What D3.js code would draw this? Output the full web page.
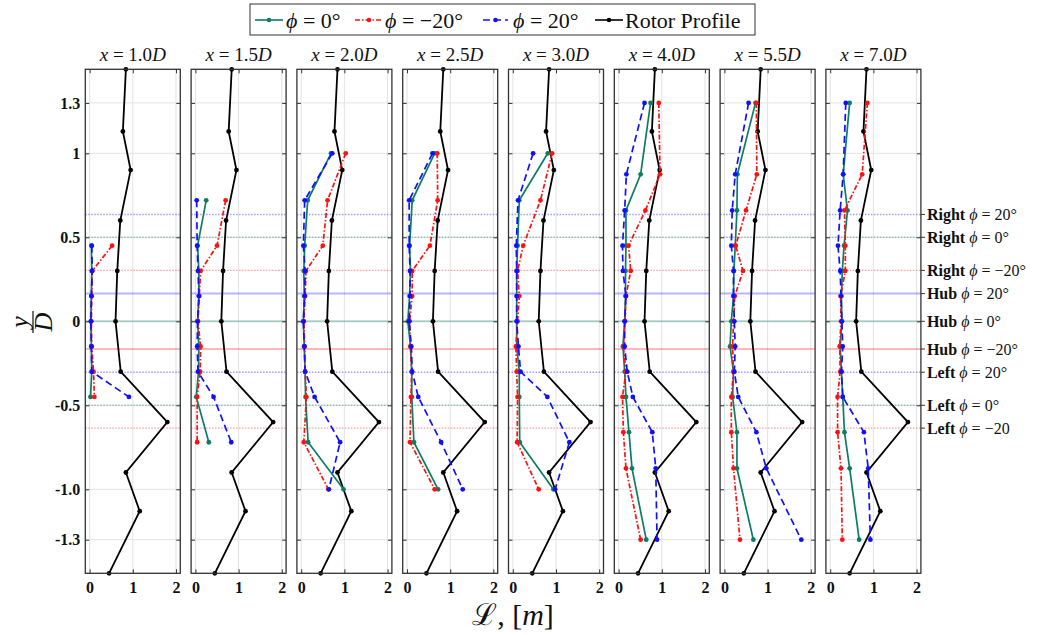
<!DOCTYPE html>
<html>
<head>
<meta charset="utf-8">
<script src="https://cdn.jsdelivr.net/npm/d3@7"></script>
<style>
  body { margin: 0; background: #fff; }
  text { font-family: "Liberation Serif", "DejaVu Serif", serif; fill: #111; }
</style>
</head>
<body>
<div id="chart"></div>
<script>
// downstream stations
var stations = ["1.0", "1.5", "2.0", "2.5", "3.0", "4.0", "5.5", "7.0"]

// y/D measurement levels used at each station
var levA = [0.45, 0.3, 0.15, 0, -0.15, -0.3, -0.45]
var levB = [0.72, 0.45, 0.3, 0.15, 0, -0.15, -0.3, -0.45, -0.72]
var levC = [1.0, 0.72, 0.45, 0.3, 0.15, 0, -0.15, -0.3, -0.45, -0.72, -1.0]
var levE = [1.3, 0.875, 0.66, 0.45, 0.3, 0.15, 0, -0.15, -0.3, -0.45, -0.66, -0.875, -1.3]
var stationLevels = [levA, levB, levC, levC, levC, levE, levE, levE]

// L [m] for phi = 0
var phi0 = [
  [0.04, 0.05, 0.04, 0.03, 0.04, 0.05, 0.02],
  [0.25, 0.05, 0.08, 0.08, 0.05, 0.08, 0.07, 0.02, 0.31],
  [0.69, 0.15, 0.08, 0.06, 0.07, 0.05, 0.07, 0.09, 0.10, 0.16, 0.98],
  [0.64, 0.12, 0.06, 0.08, 0.06, 0.02, 0.08, 0.11, 0.11, 0.16, 0.72],
  [0.81, 0.15, 0.11, 0.09, 0.09, 0.09, 0.09, 0.15, 0.15, 0.16, 0.94],
  [0.74, 0.51, 0.17, 0.17, 0.16, 0.16, 0.14, 0.10, 0.14, 0.17, 0.24, 0.31, 0.64],
  [0.72, 0.30, 0.29, 0.25, 0.22, 0.21, 0.16, 0.13, 0.21, 0.19, 0.29, 0.29, 0.67],
  [0.45, 0.30, 0.40, 0.32, 0.28, 0.26, 0.27, 0.23, 0.26, 0.29, 0.33, 0.45, 0.67]
]
// L [m] for phi = -20
var phiM20 = [
  [0.52, 0.06, 0.05, 0.04, 0.05, 0.09, 0.11],
  [0.70, 0.50, 0.12, 0.09, 0.06, 0.12, 0.11, 0.04, 0.04],
  [1.03, 0.61, 0.50, 0.11, 0.09, 0.06, 0.08, 0.09, 0.12, 0.06, 0.63],
  [0.70, 0.71, 0.53, 0.12, 0.12, 0.06, 0.08, 0.11, 0.09, 0.07, 0.64],
  [0.91, 0.64, 0.24, 0.11, 0.15, 0.11, 0.07, 0.09, 0.11, 0.10, 0.60],
  [0.93, 0.96, 0.62, 0.23, 0.28, 0.17, 0.15, 0.11, 0.17, 0.09, 0.11, 0.17, 0.51],
  [0.74, 0.75, 0.50, 0.26, 0.43, 0.24, 0.21, 0.19, 0.21, 0.16, 0.16, 0.21, 0.36],
  [0.86, 0.74, 0.33, 0.35, 0.35, 0.24, 0.25, 0.22, 0.23, 0.17, 0.17, 0.25, 0.28]
]
// L [m] for phi = 20
var phiP20 = [
  [0.05, 0.06, 0.04, 0.03, 0.04, 0.05, 0.91],
  [0.03, 0.04, 0.06, 0.08, 0.05, 0.04, 0.06, 0.42, 0.83],
  [0.72, 0.08, 0.05, 0.09, 0.08, 0.05, 0.07, 0.09, 0.31, 0.90, 0.64],
  [0.59, 0.05, 0.05, 0.07, 0.07, 0.05, 0.10, 0.12, 0.26, 0.79, 1.29],
  [0.47, 0.12, 0.08, 0.09, 0.09, 0.09, 0.13, 0.18, 0.80, 1.31, 0.98],
  [0.60, 0.18, 0.14, 0.09, 0.10, 0.17, 0.14, 0.14, 0.20, 0.33, 0.78, 0.86, 0.89],
  [0.56, 0.25, 0.18, 0.16, 0.21, 0.21, 0.23, 0.25, 0.23, 0.32, 0.74, 0.97, 1.78],
  [0.36, 0.30, 0.23, 0.18, 0.23, 0.25, 0.27, 0.29, 0.26, 0.29, 0.78, 0.88, 0.93]
]

// rotor profile (same in every panel)
var rotorY = [1.5, 1.13, 0.9, 0.6, 0.3, 0, -0.3, -0.6, -0.9, -1.13, -1.5]
var rotorL = [0.84, 0.77, 0.95, 0.71, 0.64, 0.60, 0.72, 1.80, 0.84, 1.16, 0.45]

// reference levels (right / hub / left for each phi)
var refY = [0.636, 0.5, 0.303, 0.165, 0, -0.165, -0.303, -0.5, -0.636]
var refName = ["Right", "Right", "Right", "Hub", "Hub", "Hub", "Left", "Left", "Left"]
var refPhi = ["20°", "0°", "−20°", "20°", "0°", "−20°", "20°", "0°", "−20"]
var refSeries = [2, 0, 1, 2, 0, 1, 2, 0, 1]

var yTicks = [1.3, 1, 0.5, 0, -0.5, -1.0, -1.3]
var yTickLabels = ["1.3", "1", "0.5", "0", "-0.5", "-1.0", "-1.3"]
var xTicks = [0, 1, 2]

var series = [
  { name: "0°", data: phi0, color: "#0b7d62", dash: null },
  { name: "−20°", data: phiM20, color: "#ff1010", dash: "5,2,1.5,2" },
  { name: "20°", data: phiP20, color: "#1010ff", dash: "7,4" }
]

const W = 1050, H = 635
const pw = 95, ph = 504, left0 = 85.3, step = 105.8, top0 = 69.3

const svg = d3.select("#chart").append("svg")
  .attr("width", W).attr("height", H)

const x = d3.scaleLinear().domain([-0.1, 2.1]).range([0, pw])
const y = d3.scaleLinear().domain([-1.5, 1.5]).range([ph, 0])

const line = d3.line().x(d => x(d[0])).y(d => y(d[1]))

stations.forEach(function (st, p) {
  const g = svg.append("g").attr("transform", `translate(${left0 + p * step},${top0})`)

  // grid
  g.selectAll(".gx").data(xTicks).enter().append("line")
    .attr("x1", d => x(d)).attr("x2", d => x(d))
    .attr("y1", 0).attr("y2", ph)
    .attr("stroke", "#e3e3e3").attr("stroke-width", 1)
  g.selectAll(".gy").data(yTicks).enter().append("line")
    .attr("x1", 0).attr("x2", pw)
    .attr("y1", d => y(d)).attr("y2", d => y(d))
    .attr("stroke", "#e3e3e3").attr("stroke-width", 1)

  // reference lines
  refY.forEach(function (v, i) {
    const hub = refName[i] == "Hub"
    g.append("line")
      .attr("x1", 0).attr("x2", pw)
      .attr("y1", y(v)).attr("y2", y(v))
      .attr("stroke", series[refSeries[i]].color)
      .attr("stroke-opacity", hub ? 0.3 : 0.4)
      .attr("stroke-width", hub ? 2 : 1.4)
      .attr("stroke-dasharray", hub ? null : "1.5,1.5")
  })

  // rotor profile
  const rp = rotorL.map((v, i) => [v, rotorY[i]])
  g.append("path").datum(rp).attr("d", line)
    .attr("fill", "none").attr("stroke", "#000").attr("stroke-width", 1.8)
  g.selectAll(".rp").data(rp).enter().append("circle")
    .attr("cx", d => x(d[0])).attr("cy", d => y(d[1])).attr("r", 2.4)
    .attr("fill", "#000")

  // measured series
  series.forEach(function (s) {
    const pts = s.data[p].map((v, i) => [v, stationLevels[p][i]])
    g.append("path").datum(pts).attr("d", line)
      .attr("fill", "none").attr("stroke", s.color).attr("stroke-width", 1.7)
      .attr("stroke-dasharray", s.dash)
    g.selectAll(".pt").data(pts).enter().append("circle")
      .attr("cx", d => x(d[0])).attr("cy", d => y(d[1])).attr("r", 2.4)
      .attr("fill", s.color)
  })

  // axes with inward ticks
  g.append("g").call(d3.axisLeft(y).tickValues(yTicks).tickSize(-4).tickPadding(5)
    .tickFormat((d, i) => p == 0 ? yTickLabels[i] : ""))
  g.append("g").attr("transform", `translate(${pw},0)`)
    .call(d3.axisRight(y).tickValues(yTicks).tickSize(-4).tickFormat(""))
  g.append("g").attr("transform", `translate(0,${ph})`)
    .call(d3.axisBottom(x).tickValues(xTicks).tickSize(-4).tickPadding(8).tickFormat(d3.format("d")))
  g.append("g").call(d3.axisTop(x).tickValues(xTicks).tickSize(-4).tickFormat(""))
  g.selectAll(".domain").remove()
  g.selectAll(".tick line").attr("stroke", "#333")
  g.selectAll(".tick text")
    .style("font-family", "Liberation Serif").style("font-weight", "bold")
    .style("font-size", "16px").attr("fill", "#222")

  g.append("rect").attr("width", pw).attr("height", ph)
    .attr("fill", "none").attr("stroke", "#333").attr("stroke-width", 1.3)

  // title
  const t = g.append("text").attr("x", pw / 2).attr("y", -8)
    .attr("text-anchor", "middle").style("font-size", "19px")
  t.append("tspan").style("font-style", "italic").text("x")
  t.append("tspan").text(" = " + st)
  t.append("tspan").style("font-style", "italic").text("D")
})

// labels for reference levels
const lastRight = left0 + 7 * step + pw
refY.forEach(function (v, i) {
  svg.append("line")
    .attr("x1", lastRight).attr("x2", lastRight + 4)
    .attr("y1", top0 + y(v)).attr("y2", top0 + y(v))
    .attr("stroke", "#333")
  const t = svg.append("text").attr("x", lastRight + 6).attr("y", top0 + y(v))
    .attr("dy", "0.35em").style("font-size", "16px")
  t.append("tspan").style("font-weight", "bold").text(refName[i] + " ")
  t.append("tspan").style("font-style", "italic").text("ϕ")
  t.append("tspan").text(" = " + refPhi[i])
})

// y axis label y/D
const yl = svg.append("g").attr("transform", "translate(33,322) rotate(-90)")
yl.append("text").attr("x", 0).attr("y", -5).attr("text-anchor", "middle")
  .style("font-size", "26px").style("font-style", "italic").text("y")
yl.append("line").attr("x1", -11).attr("x2", 11).attr("y1", 0).attr("y2", 0)
  .attr("stroke", "#111").attr("stroke-width", 1.2)
yl.append("text").attr("x", 0).attr("y", 19).attr("text-anchor", "middle")
  .style("font-size", "26px").style("font-style", "italic").text("D")

// x axis label
const xl = svg.append("text").attr("x", 513).attr("y", 625).attr("text-anchor", "middle")
  .style("font-size", "30px")
xl.append("tspan").text("ℒ, [")
xl.append("tspan").style("font-style", "italic").text("m")
xl.append("tspan").text("]")

// legend
const leg = svg.append("g")
leg.append("rect").attr("x", 250).attr("y", 4).attr("width", 505).attr("height", 31)
  .attr("fill", "#fff").attr("stroke", "#333").attr("stroke-width", 1)
const legItems = [
  { color: series[0].color, dash: null, x0: 255, x1: 283, label: "0°", tx: 286 },
  { color: series[1].color, dash: series[1].dash, x0: 355, x1: 383, label: "−20°", tx: 385 },
  { color: series[2].color, dash: series[2].dash, x0: 483, x1: 508, label: "20°", tx: 513 },
  { color: "#000", dash: null, x0: 595, x1: 623, label: null, tx: 625 }
]
legItems.forEach(function (d) {
  leg.append("line").attr("x1", d.x0).attr("x2", d.x1).attr("y1", 20).attr("y2", 20)
    .attr("stroke", d.color).attr("stroke-width", 1.6).attr("stroke-dasharray", d.dash)
  leg.append("circle").attr("cx", (d.x0 + d.x1) / 2).attr("cy", 20).attr("r", 2.3).attr("fill", d.color)
  const t = leg.append("text").attr("x", d.tx).attr("y", 20).attr("dy", "0.35em")
    .style("font-size", "22px")
  if (d.label) {
    t.append("tspan").style("font-style", "italic").text("ϕ")
    t.append("tspan").text(" = " + d.label)
  } else {
    t.text("Rotor Profile")
  }
})
</script>
</body>
</html>
